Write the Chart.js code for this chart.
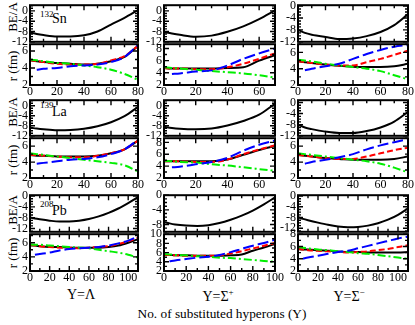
<!DOCTYPE html>
<html>
<head>
<meta charset="utf-8">
<title>BE/A and radii of hypernuclei</title>
<script src="https://cdn.jsdelivr.net/npm/chart.js@4.4.1/dist/chart.umd.min.js"></script>
<style>
  html, body { margin: 0; padding: 0; background: #fff; }
  body { position: relative; width: 415px; height: 325px; overflow: hidden;
         font-family: "Liberation Serif", "Times New Roman", serif; color: #000; }
  .pn { position: absolute; }
  .pn canvas { display: block; }
  .txt { position: absolute; white-space: nowrap; line-height: 1; }
  .vt { transform: translate(-50%, -50%) rotate(-90deg); font-size: 13px; }
  .ct { transform: translateX(-50%); font-size: 14px; }
  .ct sup { font-size: 9px; }
</style>
</head>
<body>
<div class="txt vt" style="left:12px;top:17px">BE/A</div>
<div class="txt vt" style="left:12px;top:66px">r (fm)</div>
<div class="txt vt" style="left:12px;top:112px">BE/A</div>
<div class="txt vt" style="left:12px;top:160px">r (fm)</div>
<div class="txt vt" style="left:12px;top:210px">BE/A</div>
<div class="txt vt" style="left:12px;top:253px">r (fm)</div>

<div class="txt" style="left:40px;top:10px;font-size:9px">132</div>
<div class="txt" style="left:52px;top:12px;font-size:14px">Sn</div>
<div class="txt" style="left:40px;top:101px;font-size:9px">139</div>
<div class="txt" style="left:52px;top:105px;font-size:14px">La</div>
<div class="txt" style="left:40px;top:200px;font-size:9px">208</div>
<div class="txt" style="left:52px;top:204px;font-size:14px">Pb</div>

<div class="txt ct" style="left:81px;top:288px">Y=Λ</div>
<div class="txt ct" style="left:218px;top:288px">Y=Σ<sup>+</sup></div>
<div class="txt ct" style="left:349px;top:288px">Y=Σ<sup>−</sup></div>
<div class="txt ct" style="left:222px;top:307px;font-size:13.3px">No. of substituted hyperons (Y)</div>

<script>
// number of substituted hyperons
var nY80 = [0, 5, 10, 20, 30, 40, 50, 60, 70, 80];
var nY70 = [0, 5, 10, 20, 30, 40, 50, 60, 70];
var nY110 = [0, 5, 10, 20, 30, 40, 50, 60, 70, 80, 90, 100, 110];
var nY100 = [0, 5, 10, 20, 30, 40, 50, 60, 70, 80, 90, 100];

// tick labels
var xTicks = [0, 20, 40, 60, 80, 100];
var beTicks = [0, -4, -8, -12];
var rTicks = [2, 4, 6, 8, 10];

// 132Sn : BE/A and radii (k black, r red, g green, b blue)
var snLamBE = [-8.4, -9.0, -9.4, -9.9, -9.9, -9.5, -8.0, -5.3, -2.7, 0.3];
var snLamRk = [4.9, 4.8, 4.7, 4.6, 4.5, 4.4, 4.5, 4.8, 5.3, 6.6];
var snLamRr = [4.9, 4.8, 4.7, 4.5, 4.4, 4.4, 4.5, 4.9, 5.4, 6.6];
var snLamRg = [5.0, 4.9, 4.8, 4.6, 4.5, 4.3, 4.1, 3.8, 3.3, 2.6];
var snLamRb = [null, 3.8, 3.9, 4.0, 4.2, 4.3, 4.4, 4.7, 5.3, 6.7];

var snSpBE = [-8.2, -8.8, -9.3, -10.0, -9.6, -8.1, -6.0, -3.2, 0.2];
var snSpRk = [4.8, 4.7, 4.7, 4.7, 4.7, 4.8, 4.9, 6.0, 6.9];
var snSpRr = [4.8, 4.7, 4.7, 4.6, 4.6, 4.9, 5.5, 6.3, 7.2];
var snSpRg = [4.9, 4.8, 4.7, 4.5, 4.3, 4.1, 3.9, 3.6, 3.2];
var snSpRb = [null, 3.8, 3.9, 4.2, 4.4, 5.2, 6.3, 7.2, 8.0];

var snSmBE = [-8.0, -9.0, -9.6, -10.4, -11.1, -10.9, -10.1, -8.7, -6.4, -2.7];
var snSmRk = [4.9, 4.8, 4.7, 4.5, 4.35, 4.25, 4.2, 4.2, 4.3, 4.6];
var snSmRr = [4.9, 4.8, 4.7, 4.5, 4.4, 4.4, 4.8, 5.2, 5.7, 6.2];
var snSmRg = [5.1, 5.0, 4.9, 4.6, 4.4, 4.2, 4.0, 3.7, 3.2, 2.7];
var snSmRb = [null, 3.8, 4.0, 4.3, 4.6, 5.2, 5.8, 6.3, 6.7, 6.9];

// 139La
var laLamBE = [-8.7, -9.1, -9.4, -9.8, -9.7, -9.2, -8.2, -6.6, -4.2, -0.5];
var laLamRk = [4.9, 4.8, 4.8, 4.7, 4.7, 4.7, 4.8, 5.1, 5.6, 6.7];
var laLamRr = [4.9, 4.9, 4.8, 4.7, 4.6, 4.6, 4.8, 5.1, 5.6, 6.7];
var laLamRg = [5.1, 5.0, 4.9, 4.7, 4.5, 4.3, 4.1, 3.9, 3.6, 2.8];
var laLamRb = [null, 3.8, 3.9, 4.1, 4.3, 4.4, 4.6, 5.0, 5.6, 6.8];

var laSpBE = [-8.4, -8.9, -9.2, -9.4, -9.1, -7.9, -6.1, -3.6, 0.8];
var laSpRk = [4.8, 4.8, 4.8, 4.8, 4.8, 5.1, 5.9, 6.7, 7.4];
var laSpRr = [4.8, 4.8, 4.8, 4.7, 4.7, 5.1, 6.0, 6.8, 7.5];
var laSpRg = [4.9, 4.8, 4.7, 4.6, 4.3, 4.1, 3.8, 3.5, 3.2];
var laSpRb = [null, 3.8, 3.9, 4.3, 4.7, 5.4, 6.6, 7.6, 8.3];

var laSmBE = [-8.0, -9.0, -9.6, -10.5, -11.0, -11.0, -10.3, -9.0, -6.9, -3.4];
var laSmRk = [4.9, 4.8, 4.7, 4.5, 4.4, 4.3, 4.3, 4.3, 4.4, 4.7];
var laSmRr = [4.9, 4.8, 4.7, 4.5, 4.4, 4.4, 4.7, 5.1, 5.5, 5.8];
var laSmRg = [5.1, 5.0, 4.9, 4.7, 4.5, 4.3, 4.1, 3.8, 3.3, 2.7];
var laSmRb = [null, 3.8, 4.0, 4.3, 4.6, 5.0, 5.6, 6.1, 6.5, 6.9];

// 208Pb
var pbLamBE = [-7.9, -8.3, -8.6, -9.1, -9.4, -9.4, -9.1, -8.5, -7.5, -6.2, -4.6, -2.6, -0.4];
var pbLamRk = [5.6, 5.6, 5.5, 5.4, 5.4, 5.3, 5.3, 5.3, 5.3, 5.4, 5.6, 6.0, 6.5];
var pbLamRr = [5.7, 5.6, 5.5, 5.4, 5.3, 5.3, 5.2, 5.3, 5.4, 5.5, 5.8, 6.2, 6.7];
var pbLamRg = [5.8, 5.7, 5.7, 5.6, 5.5, 5.4, 5.3, 5.2, 5.0, 4.8, 4.6, 4.3, 3.9];
var pbLamRb = [null, 4.3, 4.4, 4.6, 4.9, 5.1, 5.2, 5.3, 5.4, 5.6, 5.9, 6.3, 6.9];

var pbSpBE = [-7.3, -7.7, -8.0, -8.3, -8.4, -8.2, -7.6, -6.7, -5.6, -4.2, -2.5, -0.6];
var pbSpRk = [5.5, 5.5, 5.4, 5.4, 5.3, 5.3, 5.3, 5.4, 5.6, 6.4, 7.1, 7.9];
var pbSpRr = [5.5, 5.5, 5.4, 5.3, 5.3, 5.3, 5.4, 5.8, 6.3, 6.9, 7.5, 8.1];
var pbSpRg = [5.7, 5.6, 5.5, 5.4, 5.2, 5.1, 4.9, 4.8, 4.6, 4.4, 4.2, 4.0];
var pbSpRb = [null, 4.1, 4.3, 4.6, 4.9, 5.1, 5.5, 6.1, 6.8, 7.5, 8.1, 8.8];

var pbSmBE = [-7.9, -8.5, -9.0, -9.9, -10.7, -11.3, -11.6, -11.5, -11.0, -10.1, -8.8, -7.0, -4.6];
var pbSmRk = [5.6, 5.5, 5.5, 5.4, 5.3, 5.2, 5.1, 5.1, 5.0, 5.0, 5.0, 5.0, 5.1];
var pbSmRr = [5.6, 5.5, 5.4, 5.3, 5.2, 5.1, 5.0, 5.1, 5.2, 5.4, 5.6, 5.9, 6.2];
var pbSmRg = [5.9, 5.8, 5.7, 5.5, 5.4, 5.2, 5.1, 4.9, 4.8, 4.6, 4.4, 4.2, 4.0];
var pbSmRb = [null, 4.0, 4.2, 4.5, 4.8, 5.1, 5.3, 5.7, 6.1, 6.5, 6.9, 7.3, 7.6];

(function () {
  Chart.defaults.font.family = '"Liberation Serif", "Times New Roman", serif';
  Chart.defaults.color = "#000";

  var tickFont = { size: 12 };

  /** inward ticks on all four sides + frame */
  var frameTicks = {
    id: "frameTicks",
    afterDraw: function (chart, args, o) {
      var ctx = chart.ctx, a = chart.chartArea;
      var sx = chart.scales.x, sy = chart.scales.y;
      var i, v, p, len;
      ctx.save();
      ctx.strokeStyle = "#000";
      ctx.lineWidth = 1.4;
      ctx.beginPath();
      for (i = 0; i * o.xMinor <= sx.max + 1e-9; i++) {
        v = i * o.xMinor;
        p = sx.getPixelForValue(v);
        len = v % o.xMajor === 0 ? 5 : 3;
        ctx.moveTo(p, a.bottom); ctx.lineTo(p, a.bottom - len);
        ctx.moveTo(p, a.top); ctx.lineTo(p, a.top + len);
      }
      for (i = Math.ceil(sy.min / o.yMinor); i * o.yMinor <= sy.max + 1e-9; i++) {
        v = i * o.yMinor;
        p = sy.getPixelForValue(v);
        len = Math.abs(v % o.yMajor) < 1e-6 ? 5 : 3;
        ctx.moveTo(a.left, p); ctx.lineTo(a.left + len, p);
        ctx.moveTo(a.right, p); ctx.lineTo(a.right - len, p);
      }
      ctx.stroke();
      ctx.lineWidth = 2;
      ctx.strokeRect(a.left, a.top, a.right - a.left, a.bottom - a.top);
      ctx.restore();
    }
  };

  function pts(xs, ys) {
    var out = [];
    xs.forEach(function (x, i) {
      if (ys[i] !== null) out.push({ x: x, y: ys[i] });
    });
    return out;
  }

  function line(xs, ys, color, dash) {
    return {
      data: pts(xs, ys),
      borderColor: color,
      borderWidth: 2,
      borderDash: dash,
      pointRadius: 0,
      fill: false,
      cubicInterpolationMode: "monotone",
      clip: 0
    };
  }

  // plot boxes (left, width per column; top, height per row)
  var colX = [30, 164, 298], colW = [108, 111, 110];
  var rowY = [4, 43, 99, 137, 194, 233], rowH = [39, 42, 38, 41, 39, 38];

  var panels = [
    { c: 0, r: 0, xs: nY80, xmax: 80, be: snLamBE, ymin: -12, ymax: 2.2 },
    { c: 1, r: 0, xs: nY70, xmax: 70, be: snSpBE, ymin: -12, ymax: 2.2 },
    { c: 2, r: 0, xs: nY80, xmax: 80, be: snSmBE, ymin: -12, ymax: 0.3 },
    { c: 0, r: 1, xs: nY80, xmax: 80, rr: [snLamRk, snLamRr, snLamRg, snLamRb], ymin: 2, ymax: 6.8 },
    { c: 1, r: 1, xs: nY70, xmax: 70, rr: [snSpRk, snSpRr, snSpRg, snSpRb], ymin: 2, ymax: 8.7 },
    { c: 2, r: 1, xs: nY80, xmax: 80, rr: [snSmRk, snSmRr, snSmRg, snSmRb], ymin: 2, ymax: 7 },

    { c: 0, r: 2, xs: nY80, xmax: 80, be: laLamBE, ymin: -12, ymax: 2.2 },
    { c: 1, r: 2, xs: nY70, xmax: 70, be: laSpBE, ymin: -12, ymax: 2.2 },
    { c: 2, r: 2, xs: nY80, xmax: 80, be: laSmBE, ymin: -12, ymax: 0.8 },
    { c: 0, r: 3, xs: nY80, xmax: 80, rr: [laLamRk, laLamRr, laLamRg, laLamRb], ymin: 2, ymax: 7 },
    { c: 1, r: 3, xs: nY70, xmax: 70, rr: [laSpRk, laSpRr, laSpRg, laSpRb], ymin: 2, ymax: 8.7 },
    { c: 2, r: 3, xs: nY80, xmax: 80, rr: [laSmRk, laSmRr, laSmRg, laSmRb], ymin: 2, ymax: 7 },

    { c: 0, r: 4, xs: nY110, xmax: 110, be: pbLamBE, ymin: -13.2, ymax: 0.3 },
    { c: 1, r: 4, xs: nY100, xmax: 100, be: pbSpBE, ymin: -10, ymax: 0 },
    { c: 2, r: 4, xs: nY110, xmax: 110, be: pbSmBE, ymin: -13.3, ymax: 0.3 },
    { c: 0, r: 5, xs: nY110, xmax: 110, rr: [pbLamRk, pbLamRr, pbLamRg, pbLamRb], ymin: 2, ymax: 7.2 },
    { c: 1, r: 5, xs: nY100, xmax: 100, rr: [pbSpRk, pbSpRr, pbSpRg, pbSpRb], ymin: 2, ymax: 10 },
    { c: 2, r: 5, xs: nY110, xmax: 110, rr: [pbSmRk, pbSmRr, pbSmRg, pbSmRb], ymin: 2, ymax: 8 }
  ];

  panels.forEach(function (p) {
    var isR = !!p.rr;
    var axW = 28, padT = 8, padR = 10, axH = isR ? 16 : 0, padB = isR ? 0 : 8;
    var pw = colW[p.c], ph = rowH[p.r];
    var w = axW + pw + padR, h = padT + ph + axH + padB;

    var box = document.createElement("div");
    box.className = "pn";
    box.style.left = (colX[p.c] - axW) + "px";
    box.style.top = (rowY[p.r] - padT) + "px";
    box.style.width = w + "px";
    box.style.height = h + "px";
    var cv = document.createElement("canvas");
    cv.width = w;
    cv.height = h;
    box.appendChild(cv);
    document.body.appendChild(box);

    var datasets;
    if (isR) {
      // drawn bottom-up: first dataset ends on top
      datasets = [
        line(p.xs, p.rr[3], "#0000ff", [11, 4]),
        line(p.xs, p.rr[2], "#00ee00", [8, 3, 2, 3]),
        line(p.xs, p.rr[1], "#ff0000", [6, 3]),
        line(p.xs, p.rr[0], "#000000", [])
      ];
    } else {
      datasets = [line(p.xs, p.be, "#000000", [])];
    }
    var yList = isR ? rTicks : beTicks;

    /* eslint-disable no-new */
    new Chart(cv, {
      type: "line",
      data: { datasets: datasets },
      plugins: [frameTicks],
      options: {
        responsive: false,
        animation: false,
        events: [],
        devicePixelRatio: 1,
        layout: { padding: { left: 0, top: padT, right: padR, bottom: padB } },
        scales: {
          x: {
            type: "linear",
            min: 0,
            max: p.xmax,
            display: isR,
            grid: { display: false, drawTicks: false },
            border: { display: false },
            afterBuildTicks: function (s) {
              s.ticks = xTicks.filter(function (v) { return v <= p.xmax; })
                .map(function (v) { return { value: v }; });
            },
            afterFit: function (s) { s.height = axH; },
            ticks: {
              font: tickFont, color: "#000", padding: 0,
              maxRotation: 0, autoSkip: false,
              callback: function (v) { return String(v); }
            }
          },
          y: {
            type: "linear",
            min: p.ymin,
            max: p.ymax,
            grid: { display: false, drawTicks: false },
            border: { display: false },
            afterBuildTicks: function (s) {
              s.ticks = yList.filter(function (v) { return v >= p.ymin - 1e-9 && v <= p.ymax + 1e-9; })
                .map(function (v) { return { value: v }; });
            },
            afterFit: function (s) { s.width = axW; },
            ticks: {
              font: tickFont, color: "#000", padding: 2, autoSkip: false,
              callback: function (v) { return String(v); }
            }
          }
        },
        plugins: {
          legend: { display: false },
          tooltip: { enabled: false },
          frameTicks: { xMinor: 10, xMajor: 20, yMinor: 1, yMajor: isR ? 2 : 4 }
        }
      }
    });
  });
})();
</script>
</body>
</html>
